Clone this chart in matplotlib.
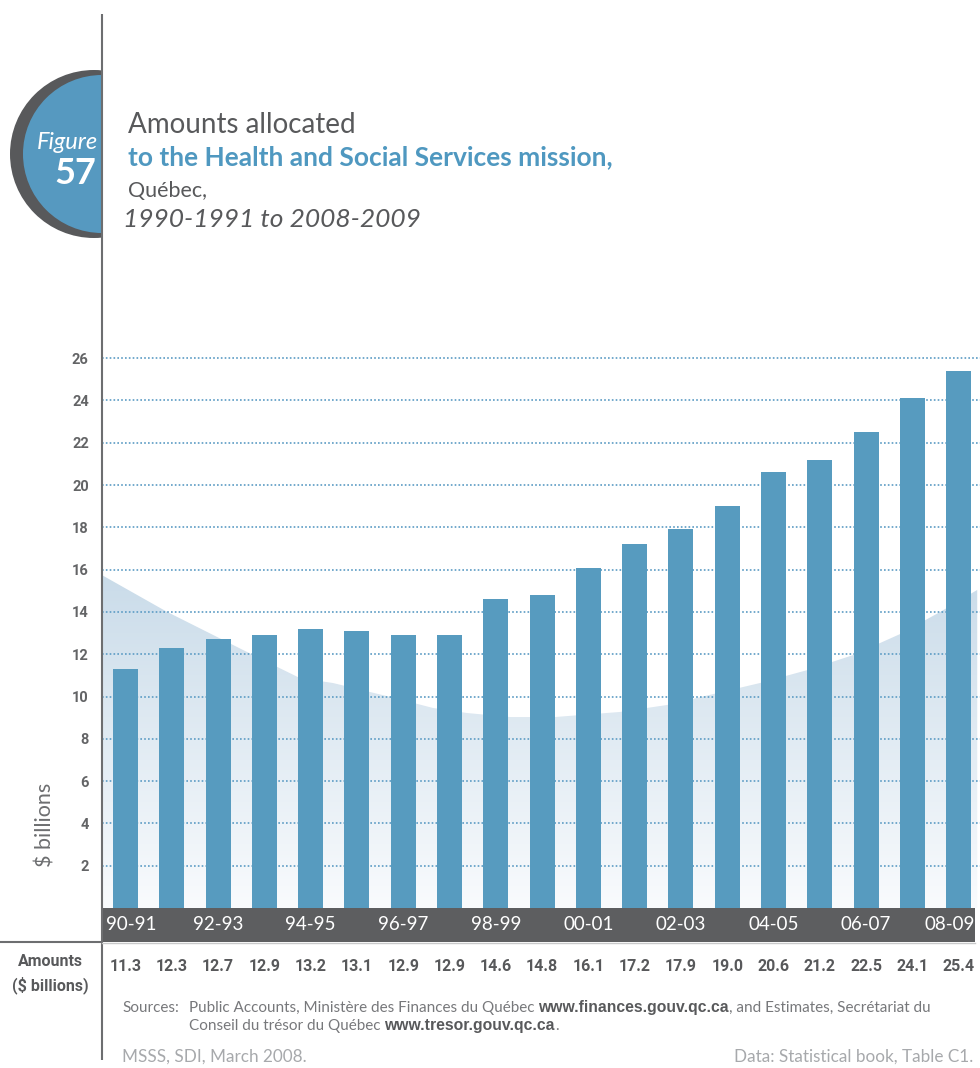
import matplotlib
matplotlib.use('Agg')
import matplotlib.pyplot as plt
import numpy as np
from matplotlib.patches import Circle, Rectangle, Polygon
from matplotlib.colors import LinearSegmentedColormap
from matplotlib.transforms import offset_copy

# ---------------- data ----------------
years = ['90-91', '91-92', '92-93', '93-94', '94-95', '95-96', '96-97', '97-98',
         '98-99', '99-00', '00-01', '01-02', '02-03', '03-04', '04-05', '05-06',
         '06-07', '07-08', '08-09']
amounts = [11.3, 12.3, 12.7, 12.9, 13.2, 13.1, 12.9, 12.9, 14.6, 14.8, 16.1,
           17.2, 17.9, 19.0, 20.6, 21.2, 22.5, 24.1, 25.4]
yticks = [2, 4, 6, 8, 10, 12, 14, 16, 18, 20, 22, 24, 26]
amount_labels = ['11.3', '12.3', '12.7', '12.9', '13.2', '13.1', '12.9', '12.9',
                 '14.6', '14.8', '16.1', '17.2', '17.9', '19.0', '20.6', '21.2',
                 '22.5', '24.1', '25.4']
# decorative backdrop outline (category units, $ billions)
backdrop_x = [-0.508, 0.90, 2.84, 3.77, 4.48, 5.72, 6.64, 7.38, 8.31, 9.28,
              10.68, 11.70, 13.71, 14.73, 15.72, 16.74, 17.60, 18.40]
backdrop_y = [15.74, 14.0, 11.87, 10.87, 10.64, 9.98, 9.46, 9.22, 9.03, 9.03,
              9.27, 9.60, 10.64, 11.25, 11.96, 12.96, 14.0, 15.04]

# ---------------- styles ----------------
W, H = 980, 1068
BAR = '#579bbf'
GRID = '#5b9bc4'
DARK = '#58595b'
BLUE = '#4f98c0'
HUM = ['Lato', 'DejaVu Sans']
NARROW = ['Liberation Sans Narrow', 'Roboto', 'DejaVu Sans']

fig = plt.figure(figsize=(W / 100, H / 100), dpi=100)


def rect(x0, y0, x1, y1):
    return [x0 / W, 1 - y1 / H, (x1 - x0) / W, (y1 - y0) / H]


XL = (-0.508, 18.46)

# ---------------- main chart ----------------
ax = fig.add_axes(rect(102, 337, 980, 908))
n = len(years)
xpos = np.arange(n)

cmap = LinearSegmentedColormap.from_list('bg', ['#f9fbfd', '#c9dbe9'])
grad = np.linspace(0, 1, 256).reshape(-1, 1)
im = ax.imshow(grad, extent=(XL[0], XL[1], 0, 16), origin='lower', cmap=cmap,
               aspect='auto', zorder=0.2, interpolation='bilinear')
poly = Polygon(list(zip(backdrop_x, backdrop_y)) + [(backdrop_x[-1], 0), (backdrop_x[0], 0)],
               closed=True, facecolor='none', edgecolor='none', transform=ax.transData)
ax.add_patch(poly)
im.set_clip_path(poly)

ax.bar(xpos, amounts, width=0.54, color=BAR, zorder=3)

ax.set_xlim(*XL)
ax.set_ylim(0, 27)
ax.set_axisbelow(True)
ax.yaxis.grid(True, color=GRID, linestyle=(0, (1, 1.3)), linewidth=1.2)
ax.set_yticks(yticks)
ax.set_yticklabels([str(v) for v in yticks], fontsize=10.5, fontweight='bold',
                   color='#636466', family=NARROW)
ax.tick_params(axis='y', length=0, pad=9.5)
ax.set_xticks([])
for s in ax.spines.values():
    s.set_visible(False)

# ---------------- category band ----------------
bd = fig.add_axes(rect(102, 908, 980, 942), sharex=ax)
bd.set_ylim(0, 1)
bd.axis('off')
bd.add_patch(Rectangle((XL[0], 0), 18.36 - XL[0], 1, color='#5d5e60', lw=0))
for i in range(0, n, 2):
    dx = 0
    if i == 0:
        dx = 5.5
    elif i == n - 1:
        dx = -9.5
    tr = offset_copy(bd.transData, fig=fig, x=dx, y=0, units='dots')
    bd.text(i, 0.5, years[i], transform=tr, ha='center', va='center',
            color='white', fontsize=13.5, family=HUM)
bd.set_xlim(*XL)

# ---------------- amounts row ----------------
am = fig.add_axes(rect(102, 942, 980, 990), sharex=ax)
am.set_ylim(0, 1)
am.axis('off')
for i in range(n):
    am.text(i, 0.48, amount_labels[i], ha='center', va='center', color=DARK,
            fontsize=11.5, fontweight='bold', family=NARROW)
am.set_xlim(*XL)

# ---------------- overlay (pixel coordinates) ----------------
ov = fig.add_axes([0, 0, 1, 1])
ov.set_xlim(0, W)
ov.set_ylim(H, 0)
ov.axis('off')

clip = Rectangle((0, 0), 102, H, transform=ov.transData, facecolor='none', edgecolor='none')
ov.add_patch(clip)
c1 = Circle((94, 154), 84, color=DARK, lw=0)
c2 = Circle((102, 154), 79, color='#5699c0', lw=0)
for c in (c1, c2):
    ov.add_patch(c)
    c.set_clip_path(clip)

ov.plot([102, 102], [14, 1060], color='#6d6e70', lw=1.5, solid_capstyle='butt')
ov.plot([0, 102], [942, 942], color='#6d6e70', lw=1.5, solid_capstyle='butt')
ov.plot([102, 975], [943, 943], color='#c8c9ca', lw=1)

ov.text(98, 149, 'Figure', ha='right', va='baseline', color='white', fontsize=17,
        style='italic', family=HUM)
ov.text(96, 184, '57', ha='right', va='baseline', color='white', fontsize=26,
        fontweight='bold', family=HUM)

ov.text(128, 133, 'Amounts allocated', va='baseline', color=DARK, fontsize=20, family=HUM)
ov.text(128, 165, 'to the Health and Social Services mission,', va='baseline', color=BLUE,
        fontsize=19, fontweight='bold', family=HUM)
ov.text(128, 197, 'Québec,', va='baseline', color=DARK, fontsize=15.5, family=HUM)
ov.text(123, 227, '1990-1991 to 2008-2009', va='baseline', color=DARK, fontsize=19,
        style='italic', family=HUM)

ov.text(45, 825, '$ billions', rotation=90, ha='center', va='center', color='#6d6e70',
        fontsize=15.5, family=HUM)
ov.text(50, 962, 'Amounts', ha='center', va='center', color=DARK, fontsize=11.5,
        fontweight='bold', family=NARROW)
ov.text(50, 985, '($ billions)', ha='center', va='center', color=DARK, fontsize=11.5,
        fontweight='bold', family=NARROW)

renderer = fig.canvas.get_renderer()


def runs(x, y, pieces):
    for txt, bold in pieces:
        if bold:
            t = ov.text(x, y, txt, va='baseline', color=DARK, fontsize=11.3,
                        fontweight='bold', family=['Liberation Sans', 'DejaVu Sans'])
        else:
            t = ov.text(x, y, txt, va='baseline', color='#77787b', fontsize=11,
                        family=HUM)
        bb = t.get_window_extent(renderer)
        x = bb.x1


runs(122, 1012, [('Sources:', False)])
runs(189, 1012, [('Public Accounts, Ministère des Finances du Québec ', False),
                 ('www.finances.gouv.qc.ca', True),
                 (', and Estimates, Secrétariat du', False)])
runs(189, 1030, [('Conseil du trésor du Québec ', False),
                 ('www.tresor.gouv.qc.ca', True),
                 ('.', False)])

ov.text(122, 1057, 'MSSS, SDI, March 2008.', va='center', color='#a7a9ac', fontsize=12.3,
        family=HUM)
ov.text(973, 1057, 'Data: Statistical book, Table C1.', ha='right', va='center',
        color='#a7a9ac', fontsize=12.3, family=HUM)

fig.savefig('out.png', dpi=100)
